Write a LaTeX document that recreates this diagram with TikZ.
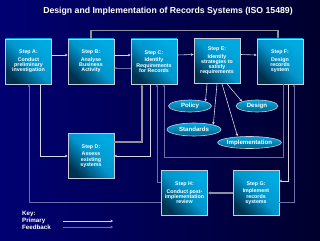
\documentclass[tikz,border=0pt]{standalone}
\usepackage{fontspec}
\setmainfont{Liberation Sans}
\usetikzlibrary{arrows.meta,shapes.geometric,positioning}
\definecolor{recbgleft}{RGB}{0,0,115}
\definecolor{recbgright}{RGB}{0,0,45}
\definecolor{recboxlight}{RGB}{0,170,225}
\definecolor{recboxmid}{RGB}{0,150,205}
\definecolor{recboxdark}{RGB}{0,50,80}
\definecolor{recborder}{RGB}{200,205,215}
\definecolor{recprimary}{RGB}{215,215,225}
\definecolor{recfeedback}{RGB}{110,110,170}
\definecolor{recgray}{RGB}{145,145,155}

\tikzset{
  title/.style={text=white,font=\fontsize{8.7}{10}\selectfont\bfseries},
  stepbox/.style={draw=recborder,line width=0.8pt,minimum width=46pt,minimum height=45pt,
    inner sep=0pt,align=center,text=white,font=\fontsize{5.3}{5.2}\selectfont\bfseries,
    top color=recboxlight,bottom color=recboxdark,middle color=recboxmid,shading angle=-45},
  strategy/.style={ellipse,draw=recborder,line width=0.6pt,inner sep=0pt,text=white,
    font=\fontsize{6.1}{7}\selectfont\bfseries,top color=recboxlight,bottom color=recboxdark!60!recboxlight},
  keytext/.style={anchor=west,text=white,inner sep=0pt,font=\fontsize{6.2}{7}\selectfont\bfseries},
  primary/.style={draw=recprimary,line width=0.6pt,-{Stealth[length=2.6pt,width=2.6pt]}},
  feedback/.style={draw=recfeedback,line width=0.6pt,-{Stealth[length=2.6pt,width=2.6pt]}},
  thickflow/.style={draw=recgray,line width=1.6pt,-{Stealth[length=3pt,width=3pt]}},
  topflow/.style={draw=recgray,line width=1.1pt,-{Stealth[length=2.6pt,width=2.6pt]}},
}

\begin{document}
\begin{tikzpicture}[x=1pt,y=-1pt]
  \useasboundingbox (0,0) rectangle (320,240);
  \fill[left color=recbgleft,right color=recbgright] (0,0) rectangle (320,240);

  \node[title] (title) at (168,11) {Design and Implementation of Records Systems (ISO 15489)};

  % steps
  \node[stepbox] (stepA) at (28.5,61.5) {Step A:\\[2.5pt]Conduct\\preliminary\\investigation};
  \node[stepbox] (stepB) at (91,61.5) {Step B:\\[2.5pt]Analyse\\Business\\Activity};
  \node[stepbox] (stepC) at (154,61.5) {Step C:\\[2.5pt]Identify\\Requirements\\for Records};
  \node[stepbox] (stepE) at (217,61) {Step E:\\[2.5pt]Identify\\strategies to\\satisfy\\requirements};
  \node[stepbox] (stepF) at (280,61.5) {Step F:\\[2.5pt]Design\\records\\system};
  \node[stepbox] (stepD) at (91,156) {Step D:\\[2.5pt]Assess\\existing\\systems};
  \node[stepbox] (stepH) at (184.5,193) {Step H:\\[2.5pt]Conduct post-\\implementation\\review};
  \node[stepbox] (stepG) at (256,193) {Step G:\\[2.5pt]Implement\\records\\systems};

  % strategies
  \node[strategy,minimum width=43pt,minimum height=12pt] (policy) at (190,106) {Policy};
  \node[strategy,minimum width=42pt,minimum height=12pt] (design) at (257,106) {Design};
  \node[strategy,minimum width=54pt,minimum height=13pt] (standards) at (194,129.5) {Standards};
  \node[strategy,minimum width=59pt,minimum height=12pt] (implem) at (249.5,142.5) {Implementation};

  % primary flow
  \draw[primary] ([yshift=6.5pt]stepA.east) -- ([yshift=6.5pt]stepB.west);
  \draw[primary] ([yshift=6.5pt]stepB.east) -- ([yshift=6.5pt]stepC.west);
  \draw[primary] ([yshift=6.5pt]stepC.east) -- ([yshift=6.5pt]stepE.west);
  \draw[primary] ([yshift=6.5pt]stepE.east) -- ([yshift=6.5pt]stepF.west);
  \draw[topflow] (stepB.north) -- ++(0,-8) -| ([xshift=-2pt]stepF.north);
  \draw[primary] ([xshift=11.5pt]stepA.south) |- (stepD.west);
  \draw[primary] ([xshift=-4pt]stepC.south) |- (stepD.east);
  \draw[thickflow] ([yshift=14pt]stepD.east) -| ([xshift=-12pt]stepC.south);
  \draw[primary] ([xshift=8pt]stepF.south) |- ([yshift=12pt]stepG.east);
  \draw[thickflow] (stepG.west) -- (stepH.east);

  % strategies from step E
  \draw[primary] ([xshift=-10pt]stepE.south) -- (policy.north east);
  \draw[primary] (stepE.south) -- (standards.north east);
  \draw[primary] ([xshift=5pt]stepE.south) -- ([xshift=-12pt]implem.north);
  \draw[primary] ([xshift=10pt]stepE.south) -- (design.north west);

  % feedback
  \draw[feedback] ([yshift=-6.5pt]stepC.west) -- ([yshift=-6.5pt]stepB.east);
  \draw[feedback] ([yshift=11pt]stepH.west) -| ([xshift=3pt]stepC.south);
  \draw[feedback] ([xshift=3pt]stepF.south) -- ++(0,73) -| ([xshift=10pt]stepC.south);
  \draw[feedback] ([yshift=-9pt]stepG.east) -| ([xshift=14pt]stepF.south);
  \draw[feedback] ([yshift=-9pt]stepH.west) -| ([xshift=0.5pt]stepA.south);

  % key
  \node[keytext] (key) at (22,214) {Key:};
  \node[keytext] (keyprimary) at (22,220.5) {Primary};
  \node[keytext] (keyfeedback) at (22,227) {Feedback};
  \coordinate (keyPa) at (63,221);
  \coordinate (keyPb) at (113,221);
  \coordinate (keyFa) at (63,227);
  \coordinate (keyFb) at (113,227);
  \draw[primary] (keyPa) -- (keyPb);
  \draw[feedback] (keyFa) -- (keyFb);
\end{tikzpicture}
\end{document}
